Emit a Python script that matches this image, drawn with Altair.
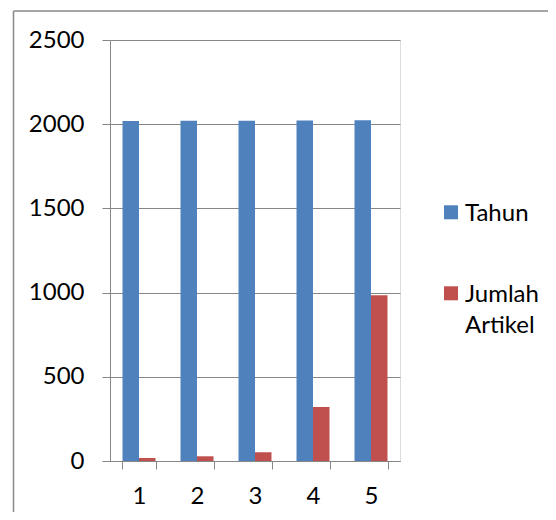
import altair as alt
import pandas as pd

kategori = ["1", "2", "3", "4", "5"]
tahun = [2019, 2020, 2021, 2022, 2023]
jumlah_artikel = [18, 28, 52, 321, 985]
series = ["Tahun", "Jumlah Artikel"]
colors = ["#4F81BD", "#C0504D"]
y_ticks = [0, 500, 1000, 1500, 2000, 2500]

rows = []
for k, t, j in zip(kategori, tahun, jumlah_artikel):
    rows.append({"kategori": k, "seri": "Tahun", "nilai": t})
    rows.append({"kategori": k, "seri": "Jumlah Artikel", "nilai": j})
df = pd.DataFrame(rows)

GRAY = "#868686"
FONT = "Lato"
FS = 24

bars = alt.Chart(df).mark_bar().encode(
    x=alt.X(
        "kategori:N",
        sort=kategori,
        scale=alt.Scale(paddingInner=0.431, paddingOuter=0.2155),
        axis=alt.Axis(
            title=None, labelAngle=0, tickBand="extent", grid=False,
            domainColor=GRAY, tickColor=GRAY, tickSize=8, labelPadding=15,
            labelFontSize=FS, labelFont=FONT, labelColor="#000000",
        ),
    ),
    xOffset=alt.XOffset("seri:N", sort=series, scale=alt.Scale(paddingInner=0, paddingOuter=0)),
    y=alt.Y(
        "nilai:Q",
        scale=alt.Scale(domain=[0, 2500], nice=False),
        axis=alt.Axis(
            title=None, values=y_ticks, format="d", grid=True, gridColor=GRAY,
            domainColor=GRAY, tickColor=GRAY, tickSize=8, labelPadding=18,
            labelFontSize=FS, labelFont=FONT, labelColor="#000000",
        ),
    ),
    color=alt.Color(
        "seri:N",
        sort=series,
        scale=alt.Scale(domain=series, range=colors),
        legend=alt.Legend(
            title=None, orient="none", legendX=329, legendY=150, padding=0,
            symbolType="M-1,0.47H1V2.47H-1Z", symbolSize=196, symbolStrokeWidth=0,
            symbolOpacity=1, labelFontSize=FS, labelFont=FONT, labelColor="#000000",
            labelBaseline="top", labelOffset=2, rowPadding=45, labelLimit=200,
            labelExpr="datum.label == 'Jumlah Artikel' ? ['Jumlah', 'Artikel'] : datum.label",
        ),
    ),
)

one = pd.DataFrame({"a": [0]})
border_left = alt.Chart(one).mark_rule(color="#898989", strokeWidth=1.5).encode(
    x=alt.value(-96.5), y=alt.value(-29), y2=alt.value(480)
)
border_top = alt.Chart(one).mark_rule(color="#898989", strokeWidth=1.5).encode(
    x=alt.value(-96.5), x2=alt.value(450), y=alt.value(-29)
)

chart = alt.layer(bars, border_left, border_top).properties(
    width=290,
    height=421,
    autosize=alt.AutoSizeParams(type="none"),
    padding={"left": 102, "top": 32, "right": 148, "bottom": 51},
).configure_view(stroke=None).configure(
    style={"guide-label": {"lineHeight": 31}}
)

chart.save("out.html", embed_options={"renderer": "svg", "actions": False})
